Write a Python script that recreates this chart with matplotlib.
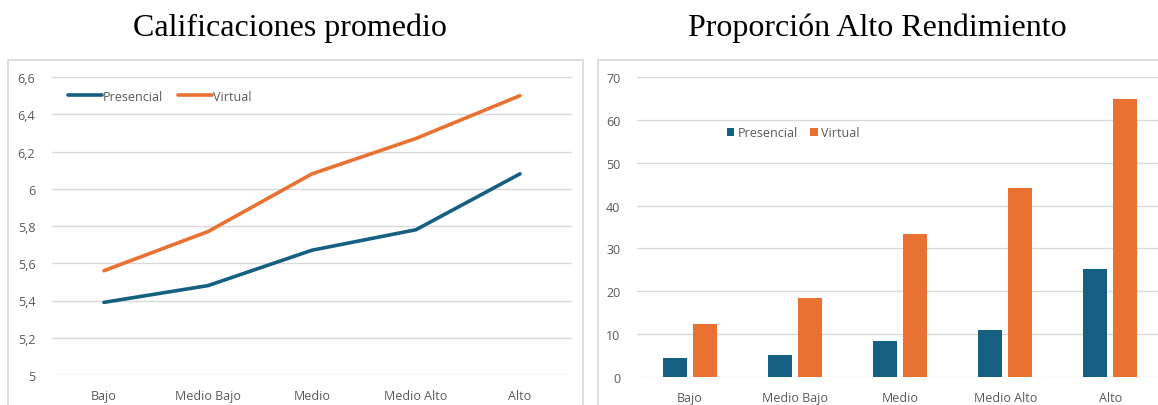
import matplotlib.pyplot as plt
from matplotlib.patches import Rectangle
from matplotlib.ticker import FuncFormatter
import numpy as np

# colores (tema Office)
PRES_COLOR = "#156082"
VIRT_COLOR = "#E97132"
GRID_COLOR = "#D9D9D9"
TEXT_COLOR = "#595959"

# datos
categorias = ["Bajo", "Medio Bajo", "Medio", "Medio Alto", "Alto"]
notas_presencial = [5.39, 5.48, 5.67, 5.78, 6.08]
notas_virtual = [5.56, 5.77, 6.08, 6.27, 6.50]
alto_presencial = [4.4, 5.2, 8.4, 10.9, 25.3]
alto_virtual = [12.3, 18.4, 33.4, 44.1, 64.8]

plt.rcParams["font.family"] = ["Open Sans", "DejaVu Sans"]

W, H = 1158, 406
fig = plt.figure(figsize=(W / 100, H / 100), dpi=100)

# marcos de los paneles
for x0, x1 in [(8, 583), (598, 1170)]:
    fig.patches.append(Rectangle((x0 / W, -0.1), (x1 - x0) / W, 1.1 - 61 / H,
                                 transform=fig.transFigure, fill=False,
                                 edgecolor="#D9D9D9", lw=1.2))


def estilo(ax):
    for s in ax.spines.values():
        s.set_visible(False)
    ax.grid(axis="y", color=GRID_COLOR, lw=1)
    ax.set_axisbelow(True)
    ax.tick_params(length=0, colors=TEXT_COLOR, labelsize=9)
    ax.tick_params(axis="x", pad=10)
    ax.tick_params(axis="y", pad=12)


def coma(v, p):
    if abs(v - round(v)) < 1e-6:
        return f"{int(round(v))}"
    return f"{v:.1f}".replace(".", ",")


x = np.arange(len(categorias))

# ── Calificaciones promedio ──
ax1 = fig.add_axes([52 / W, (H - 376) / H, 520 / W, 298 / H])
ax1.plot(x, notas_presencial, color=PRES_COLOR, lw=2.6, label="Presencial",
         solid_capstyle="round")
ax1.plot(x, notas_virtual, color=VIRT_COLOR, lw=2.6, label="Virtual",
         solid_capstyle="round")
ax1.set_xlim(-0.5, 4.5)
ax1.set_ylim(5, 6.6)
ax1.set_yticks(np.arange(5, 6.61, 0.2))
ax1.yaxis.set_major_formatter(FuncFormatter(coma))
ax1.set_xticks(x)
ax1.set_xticklabels(categorias)
estilo(ax1)
ax1.legend(loc="center left", bbox_to_anchor=(0.031, 0.935), ncol=2, frameon=False,
           fontsize=9, handlelength=2.7, handletextpad=0.1, columnspacing=1.2,
           borderpad=0, borderaxespad=0, labelcolor=TEXT_COLOR)
fig.text(290 / W, 1 - 28 / H, "Calificaciones promedio", ha="center", va="center",
         fontsize=23, family="Liberation Serif")

# ── Proporción Alto Rendimiento ──
ax2 = fig.add_axes([637 / W, (H - 378) / H, 526 / W, 300 / H])
bw = 0.228
ax2.bar(x - 0.143, alto_presencial, bw, color=PRES_COLOR, label="Presencial")
ax2.bar(x + 0.143, alto_virtual, bw, color=VIRT_COLOR, label="Virtual")
ax2.set_xlim(-0.5, 4.5)
ax2.set_ylim(0, 70)
ax2.set_yticks(np.arange(0, 71, 10))
ax2.set_xticks(x)
ax2.set_xticklabels(categorias)
estilo(ax2)
ax2.legend(loc="center left", bbox_to_anchor=(0.171, 0.815), ncol=2, frameon=False,
           fontsize=9, handlelength=0.6, handleheight=0.6, handletextpad=0.25,
           columnspacing=1.0, borderpad=0, borderaxespad=0, labelcolor=TEXT_COLOR)
fig.text(877 / W, 1 - 28 / H, "Proporción Alto Rendimiento", ha="center", va="center",
         fontsize=23, family="Liberation Serif")

fig.savefig("out.png", dpi=100)
